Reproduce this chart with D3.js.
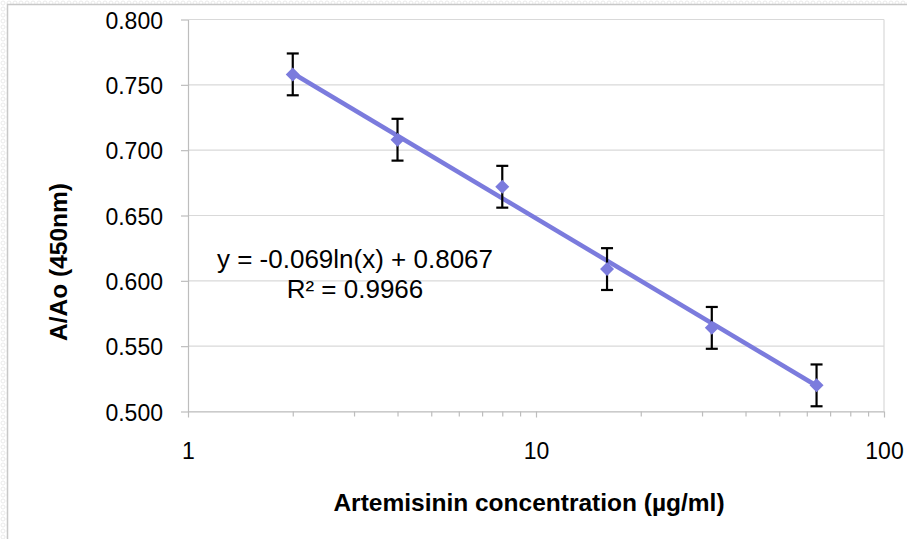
<!DOCTYPE html>
<html lang="en">

<head>
  <meta charset="UTF-8">
  <title>Artemisinin standard curve</title>
  <script src="https://d3js.org/d3.v7.min.js"></script>
  <style>
    body,
    html {
      margin: 0;
      padding: 0;
      overflow: hidden;
      background: #ffffff;
    }

    text {
      font-family: "Liberation Sans", Arial, sans-serif;
      fill: #000;
    }
  </style>
</head>

<body>
  <script>

    // data
    const concentrations = [2, 4, 8, 16, 32, 64];
    const ratios = [0.758, 0.708, 0.672, 0.609, 0.564, 0.520];
    const errors = [0.016, 0.016, 0.016, 0.016, 0.016, 0.016];

    const xTicks = [1, 10, 100];
    const xMinorTicks = [2, 3, 4, 5, 6, 7, 8, 9, 20, 30, 40, 50, 60, 70, 80, 90];
    const yTicks = [0.5, 0.55, 0.6, 0.65, 0.7, 0.75, 0.8];

    // logarithmic trendline y = a ln(x) + b, as printed on the chart
    const trendA = -0.069;
    const trendB = 0.8067;
    const trendLabel = ["y = -0.069ln(x) + 0.8067", "R² = 0.9966"];

    const width = 907;
    const height = 539;
    const plot = { left: 188, right: 884, top: 19.5, bottom: 411.5 };
    const blue = "#7b7bdd";

    const svg = d3.select("body")
      .append("svg")
      .attr("width", width)
      .attr("height", height);

    // page background outside the chart box
    const pattern = svg.append("defs").append("pattern")
      .attr("id", "dots")
      .attr("width", 6)
      .attr("height", 6)
      .attr("patternUnits", "userSpaceOnUse");
    pattern.append("rect").attr("width", 6).attr("height", 6).attr("fill", "#fff");
    pattern.append("circle").attr("cx", 3).attr("cy", 3).attr("r", 2)
      .attr("fill", "none").attr("stroke", "#e4e4e4").attr("stroke-width", 0.8);

    svg.append("rect")
      .attr("width", width)
      .attr("height", height)
      .attr("fill", "url(#dots)");

    svg.append("rect")
      .attr("x", 7.5)
      .attr("y", 4.5)
      .attr("width", width)
      .attr("height", height)
      .attr("fill", "#fff")
      .attr("stroke", "#c8c8c8")
      .attr("stroke-width", 1.5);

    const x = d3.scaleLog().domain([1, 100]).range([plot.left, plot.right]);
    const y = d3.scaleLinear().domain([0.5, 0.8]).range([plot.bottom, plot.top]);

    // gridlines
    svg.append("g")
      .selectAll("line")
      .data(yTicks)
      .join("line")
      .attr("x1", plot.left)
      .attr("x2", plot.right)
      .attr("y1", d => y(d))
      .attr("y2", d => y(d))
      .attr("stroke", "#d9d9d9")
      .attr("stroke-width", 1.2);

    svg.append("line")
      .attr("x1", plot.right)
      .attr("x2", plot.right)
      .attr("y1", plot.top)
      .attr("y2", plot.bottom)
      .attr("stroke", "#d9d9d9")
      .attr("stroke-width", 1.2);

    // axes
    const yAxis = svg.append("g")
      .attr("transform", `translate(${plot.left},0)`)
      .call(d3.axisLeft(y).tickValues(yTicks).tickFormat(d3.format(".3f")).tickSize(7).tickPadding(18).tickSizeOuter(0));

    const xMinor = svg.append("g")
      .attr("transform", `translate(0,${plot.bottom})`)
      .call(d3.axisBottom(x).tickValues(xMinorTicks).tickFormat("").tickSize(5).tickSizeOuter(0));
    xMinor.select(".domain").remove();

    const xAxis = svg.append("g")
      .attr("transform", `translate(0,${plot.bottom})`)
      .call(d3.axisBottom(x).tickValues(xTicks).tickFormat(d3.format("d")).tickSize(6).tickPadding(25).tickSizeOuter(0));

    [yAxis, xAxis, xMinor].forEach(a => {
      a.selectAll("line").attr("stroke", "#bdbdbd").attr("stroke-width", 1.2);
      a.select(".domain").attr("stroke", "#bdbdbd").attr("stroke-width", 1.2);
      a.selectAll("text")
        .attr("font-family", "Liberation Sans, Arial, sans-serif")
        .attr("font-size", 23)
        .attr("fill", "#000");
    });
    yAxis.selectAll("text").attr("dy", "0.38em");

    // trendline over the data range
    const trend = d3.line()
      .x(d => x(d))
      .y(d => y(trendA * Math.log(d) + trendB));

    svg.append("path")
      .datum(d3.extent(concentrations))
      .attr("d", trend)
      .attr("fill", "none")
      .attr("stroke", blue)
      .attr("stroke-width", 4.5);

    // error bars
    const bars = svg.append("g")
      .selectAll("g")
      .data(concentrations.map((c, i) => ({ c: c, v: ratios[i], e: errors[i] })))
      .join("g")
      .attr("stroke", "#000")
      .attr("stroke-width", 2.2);

    bars.append("line")
      .attr("x1", d => x(d.c))
      .attr("x2", d => x(d.c))
      .attr("y1", d => y(d.v + d.e))
      .attr("y2", d => y(d.v - d.e));

    bars.append("line")
      .attr("x1", d => x(d.c) - 6)
      .attr("x2", d => x(d.c) + 6)
      .attr("y1", d => y(d.v + d.e))
      .attr("y2", d => y(d.v + d.e));

    bars.append("line")
      .attr("x1", d => x(d.c) - 6)
      .attr("x2", d => x(d.c) + 6)
      .attr("y1", d => y(d.v - d.e))
      .attr("y2", d => y(d.v - d.e));

    // diamond markers
    svg.append("g")
      .selectAll("path")
      .data(concentrations)
      .join("path")
      .attr("d", "M0,-7 L7,0 L0,7 L-7,0 Z")
      .attr("transform", (d, i) => `translate(${x(d)},${y(ratios[i])})`)
      .attr("fill", blue);

    // trendline label
    svg.append("text")
      .attr("x", 355)
      .attr("y", 268)
      .attr("text-anchor", "middle")
      .attr("font-size", 26)
      .selectAll("tspan")
      .data(trendLabel)
      .join("tspan")
      .attr("x", 355)
      .attr("dy", (d, i) => i == 0 ? 0 : 30.3)
      .text(d => d);

    // axis titles
    svg.append("text")
      .attr("x", 529)
      .attr("y", 510.5)
      .attr("text-anchor", "middle")
      .attr("font-size", 24.5)
      .attr("font-weight", "bold")
      .text("Artemisinin concentration (µg/ml)");

    svg.append("text")
      .attr("transform", "translate(67,262) rotate(-90)")
      .attr("text-anchor", "middle")
      .attr("font-size", 24.5)
      .attr("font-weight", "bold")
      .text("A/Ao (450nm)");

  </script>
</body>

</html>
